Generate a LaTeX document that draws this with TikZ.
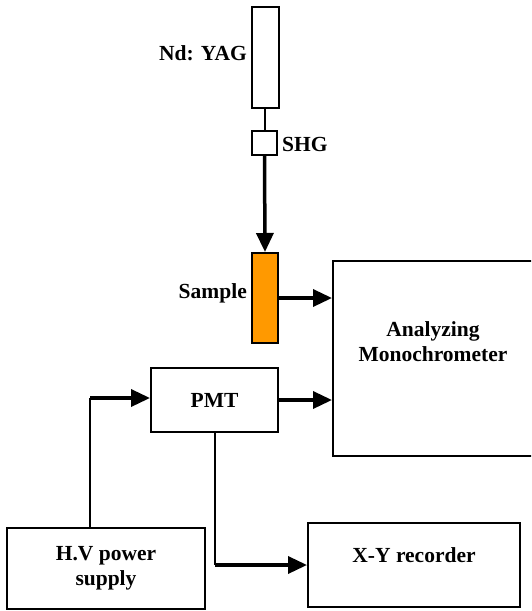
\documentclass[tikz,border=0pt]{standalone}
\usepackage{fontspec}
\setmainfont{Liberation Serif}
\usetikzlibrary{arrows.meta,positioning,calc}
\definecolor{sampleorange}{RGB}{255,153,0}

\begin{document}
\begin{tikzpicture}[
    x=1pt, y=-1pt,
    box/.style={draw, line width=2pt, inner sep=0pt, align=center, font=\fontsize{21.5}{25}\selectfont\bfseries},
    lbl/.style={inner sep=0pt, font=\fontsize{21.5}{25}\selectfont\bfseries},
    txt/.style={inner sep=0pt, align=center, font=\fontsize{21.5}{25}\selectfont\bfseries},
    arr/.style={-{Triangle[length=19pt, width=17pt]}, line width=3.5pt},
    thinline/.style={line width=2pt}
]
\clip (0,0) rectangle (531,611);
\fill[white] (0,0) rectangle (531,611);

% source side
\node[box, minimum width=27pt, minimum height=101pt] (yag) at (265.5,57.5) {};
\node[box, minimum width=25pt, minimum height=24pt] (shg) at (264.5,143) {};
\node[box, fill=sampleorange, minimum width=26pt, minimum height=90pt] (sample) at (265,298) {};
\node[lbl, anchor=east] (yaglbl) at (247,53) {Nd: YAG};
\node[lbl, anchor=west] (shglbl) at (282,144) {SHG};
\node[lbl, anchor=east] (samplelbl) at (247,293) {Sample};

% detection side
\node[box, minimum width=200pt, minimum height=195pt,
      label={[txt, yshift=17pt]center:Analyzing\\Monochrometer}] (mono) at (433,358.5) {};
\node[box, minimum width=127pt, minimum height=64pt] (pmt) at (214.5,400) {PMT};
\node[box, minimum width=198pt, minimum height=81pt] (hv) at (106,568.5) {H.V power\\supply};
\node[box, minimum width=212pt, minimum height=84pt,
      label={[txt, yshift=10pt]center:X-Y recorder}] (xy) at (414,565) {};

\coordinate (hvtop) at (hv.north -| 90,0);
\coordinate (hvturn) at (90,398);
\coordinate (pmtturn) at (pmt.south |- xy.west);

\draw[thinline] (shg.north |- yag.south) -- (shg.north);
\draw[arr] (shg.south) -- (sample.north);
\draw[arr] (sample.east) -- (sample.east -| mono.west);
\draw[arr] (pmt.east) -- (pmt.east -| mono.west);
\draw[thinline] (hvtop) -- (hvturn);
\draw[arr] (hvturn) -- (hvturn -| pmt.west);
\draw[thinline] (pmt.south) -- (pmtturn);
\draw[arr] (pmtturn) -- (xy.west);
\end{tikzpicture}
\end{document}
